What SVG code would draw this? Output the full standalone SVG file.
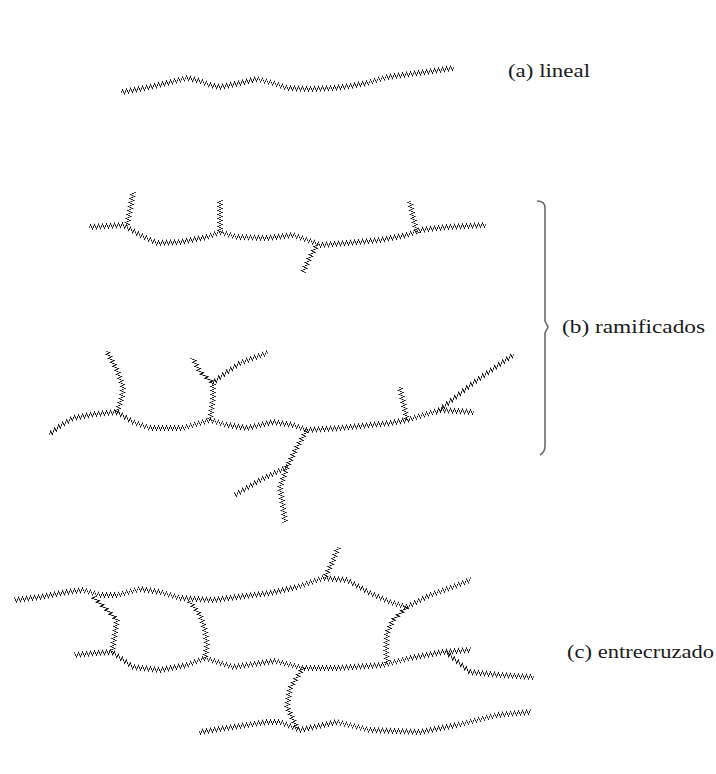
<svg xmlns="http://www.w3.org/2000/svg" width="716" height="774" viewBox="0 0 716 774">
  <defs>
    <style>
      .chain { fill: none; stroke: #151515; stroke-width: 1.8; stroke-linejoin: round; stroke-linecap: round; }
      .label { font-family: "Liberation Serif", "Times New Roman", serif; font-size: 18px; fill: #1a1a1a; }
      .brace { fill: none; stroke: #6a6a6a; stroke-width: 1.6; }
    </style>
    <!-- Zigzag for mostly horizontal chains: vertical offset that repeats every 4px along x -->
    <filter id="wavyH" filterUnits="userSpaceOnUse" primitiveUnits="userSpaceOnUse" x="0" y="0" width="716" height="774" color-interpolation-filters="sRGB">
      <feFlood x="0" y="0" width="1" height="4" flood-color="rgb(128,0,0)" result="c0"/>
      <feFlood x="1" y="0" width="1" height="4" flood-color="rgb(128,128,0)" result="c1"/>
      <feFlood x="2" y="0" width="1" height="4" flood-color="rgb(128,255,0)" result="c2"/>
      <feFlood x="3" y="0" width="1" height="4" flood-color="rgb(128,128,0)" result="c3"/>
      <feMerge x="0" y="0" width="4" height="4" result="cell">
        <feMergeNode in="c0"/><feMergeNode in="c1"/><feMergeNode in="c2"/><feMergeNode in="c3"/>
      </feMerge>
      <feTile in="cell" x="0" y="0" width="716" height="774" result="map"/>
      <feDisplacementMap in="SourceGraphic" in2="map" scale="3.8" xChannelSelector="R" yChannelSelector="G"/>
    </filter>
    <!-- Zigzag for mostly vertical branches: horizontal offset that repeats every 4px along y -->
    <filter id="wavyV" filterUnits="userSpaceOnUse" primitiveUnits="userSpaceOnUse" x="0" y="0" width="716" height="774" color-interpolation-filters="sRGB">
      <feFlood x="0" y="0" width="4" height="1" flood-color="rgb(0,128,0)" result="r0"/>
      <feFlood x="0" y="1" width="4" height="1" flood-color="rgb(128,128,0)" result="r1"/>
      <feFlood x="0" y="2" width="4" height="1" flood-color="rgb(255,128,0)" result="r2"/>
      <feFlood x="0" y="3" width="4" height="1" flood-color="rgb(128,128,0)" result="r3"/>
      <feMerge x="0" y="0" width="4" height="4" result="cell">
        <feMergeNode in="r0"/><feMergeNode in="r1"/><feMergeNode in="r2"/><feMergeNode in="r3"/>
      </feMerge>
      <feTile in="cell" x="0" y="0" width="716" height="774" result="map"/>
      <feDisplacementMap in="SourceGraphic" in2="map" scale="3.8" xChannelSelector="R" yChannelSelector="G"/>
    </filter>
  </defs>

  <rect width="716" height="774" fill="#fff"/>

  <!-- (a) linear polymer -->
  <g id="linear">
    <g filter="url(#wavyH)">
      <polyline class="chain" points="122,92 145,88 167,83 187,78 200,81 210,85 220,87 240,83 257,79 273,83 287,88 310,89 333,88 350,86 367,83 387,77 410,74 433,71 453,68"/>
    </g>
    <text class="label" x="508" y="77" textLength="82" lengthAdjust="spacingAndGlyphs">(a) lineal</text>
  </g>

  <!-- (b) branched polymers -->
  <g id="branched">
    <g filter="url(#wavyH)">
      <polyline class="chain" points="90,227 107,226 123,225 140,235 157,243 180,242 207,237 220,232 237,237 267,238 293,235 313,242 320,245 347,243 380,240 407,235 420,230 447,227 485,225"/>
      <polyline class="chain" points="50,434 60,426 73,418 95,414 117,412 133,422 150,428 183,428 210,420 227,425 247,428 273,422 293,425 307,430 340,428 390,423 407,420 420,416 440,410 473,412"/>
      <polyline class="chain" points="213,383 220,377 240,363 267,353"/>
      <polyline class="chain" points="287,467 260,480 235,495"/>
      <polyline class="chain" points="437,412 473,383 513,355"/>
    </g>
    <g filter="url(#wavyV)">
      <polyline class="chain" points="127,225 130,210 133,193"/>
      <polyline class="chain" points="220,232 220,216 220,201"/>
      <polyline class="chain" points="317,245 310,257 303,272"/>
      <polyline class="chain" points="417,233 413,217 410,202"/>
      <polyline class="chain" points="117,412 122,397 123,387 117,370 107,352"/>
      <polyline class="chain" points="210,420 213,398 213,383"/>
      <polyline class="chain" points="213,383 200,372 193,359"/>
      <polyline class="chain" points="307,430 297,447 287,467 280,487 283,507 285,522"/>
      <polyline class="chain" points="407,420 400,388"/>
    </g>
    <path class="brace" d="M537,201 Q545,201 545,208 L545,321 L548,327 L545,333 L545,446 Q545,452 540,455"/>
    <text class="label" x="562" y="333" textLength="143" lengthAdjust="spacingAndGlyphs">(b) ramificados</text>
  </g>

  <!-- (c) cross-linked network -->
  <g id="crosslinked">
    <g filter="url(#wavyH)">
      <polyline class="chain" points="15,600 40,597 67,592 83,590 100,595 117,595 140,589 160,592 180,598 213,600 253,595 270,593 297,587 323,578 347,580 370,593 390,602 407,607 430,595 450,588 470,580"/>
      <polyline class="chain" points="75,655 95,653 112,652"/>
      <polyline class="chain" points="112,652 133,667 160,670 187,665 205,658 233,667 260,663 275,661 303,668 337,668 383,665 410,658 443,652 470,650"/>
      <polyline class="chain" points="447,653 470,672 500,675 533,677"/>
      <polyline class="chain" points="200,732 233,727 267,722 280,722 300,730 337,722 370,730 420,732 457,725 497,715 530,712"/>
    </g>
    <g filter="url(#wavyV)">
      <polyline class="chain" points="93,597 107,610 117,620 115,633 112,652"/>
      <polyline class="chain" points="190,602 200,615 205,630 207,645 205,658"/>
      <polyline class="chain" points="325,577 332,563 338,548"/>
      <polyline class="chain" points="407,607 393,620 387,633 386,650 387,663"/>
      <polyline class="chain" points="303,668 290,688 287,707 297,728"/>
    </g>
    <text class="label" x="567" y="658" textLength="147" lengthAdjust="spacingAndGlyphs">(c) entrecruzado</text>
  </g>
</svg>
